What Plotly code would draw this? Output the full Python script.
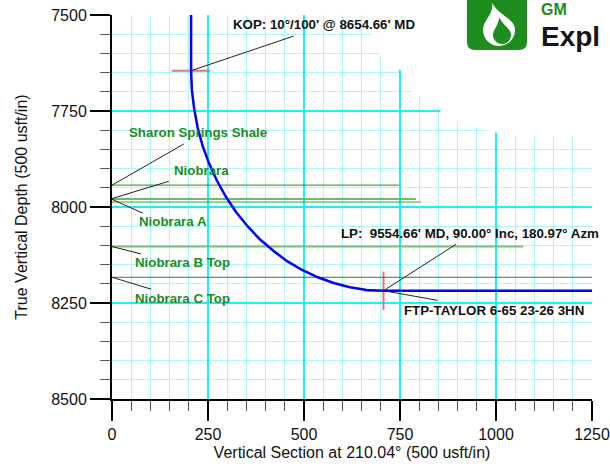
import plotly.graph_objects as go

# ---------------- data ----------------
well_vs = [206, 206, 208, 214, 223, 236, 253, 273, 297, 323, 353, 385, 420, 456, 495, 536, 577, 620, 663, 707, 1250]
well_tvd = [7500, 7645, 7695, 7744, 7793, 7841, 7887, 7931, 7974, 8013, 8050, 8084, 8114, 8141, 8164, 8183,
            8198, 8209, 8216, 8218, 8218]

form_names = ["Sharon Springs Shale", "Niobrara", "Niobrara A", "Niobrara B Top", "Niobrara C Top"]
form_tvd = [7943, 7979, 7987, 8103, 8183]
form_end = [748, 792, 805, 1071, 1250]
form_colors = ["#1f8a1f", "#6abf6a", "#3c9c3c", "#74c474", "#1f8a1f"]
form_widths = [1, 2, 1, 2, 1]

# label anchor (text) positions and leader line endpoints, data coords
form_label_x = [40, 156, 64, 55, 55]
form_label_y = [7807, 7904, 8039, 8144, 8238]
form_lead_y0 = [7943, 7978, 7980, 8103, 8183]
form_lead_x1 = [187, 148, 80, 75, 102]
form_lead_y1 = [7836, 7933, 8016, 8122, 8214]

kop_vs, kop_tvd = 206, 7645
lp_vs, lp_tvd = 707, 8218
kop_text = "KOP: 10°/100' @ 8654.66' MD"
lp_text = "LP:  9554.66' MD, 90.00° Inc, 180.97° Azm"
well_text = "FTP-TAYLOR 6-65 23-26 3HN"

x_ticks = [0, 250, 500, 750, 1000, 1250]
y_ticks = [7500, 7750, 8000, 8250, 8500]

X_RANGE = [0, 1250]
Y_RANGE = [8500, 7500]

# ---------------- layout geometry helpers ----------------
ML, MR, MT, MB = 112, 18, 15, 67
W, H = 610, 466
PW, PH = W - ML - MR, H - MT - MB


def pp(xpx, ypx):
    return (xpx - ML) / PW, (H - MB - ypx) / PH


def px2data(xpx, ypx):
    fx, fy = pp(xpx, ypx)
    return (X_RANGE[0] + fx * (X_RANGE[1] - X_RANGE[0]),
            Y_RANGE[0] + fy * (Y_RANGE[1] - Y_RANGE[0]))


def path_px(cmds):
    out = []
    for c in cmds:
        if isinstance(c, str):
            out.append(c)
        else:
            x, y = pp(*c)
            out.append(f"{x:.5f},{y:.5f}")
    return " ".join(out)


fig = go.Figure()

GREEN_TXT = "#1e8c1e"
LBL = 13.3

# white mask hiding the grid in the top-right corner (under all marks)
stair = [(363.5, -2), (363.5, 16), (370.5, 34.5), (379.5, 53.5), (382.5, 57), (401.5, 71), (402, 72.5),
         (412.5, 92.5), (420.5, 97), (439.5, 107), (440.5, 111.5), (458.5, 123), (477.5, 128),
         (487.5, 130.5), (497.5, 133), (516.5, 135.8), (535, 136.8), (600, 136.8), (600, -2)]
mask = [px2data(*p) for p in stair]
fig.add_trace(go.Scatter(x=[m[0] for m in mask], y=[m[1] for m in mask], mode="lines", fill="toself",
                         fillcolor="white", line=dict(width=0, color="white"), hoverinfo="skip",
                         showlegend=False, cliponaxis=True))

# red KOP / LP markers (under the well path)
fig.add_trace(go.Scatter(x=[kop_vs - 50, kop_vs + 50], y=[kop_tvd, kop_tvd], mode="lines",
                         line=dict(color="#f07070", width=2), hoverinfo="skip", showlegend=False))
fig.add_trace(go.Scatter(x=[lp_vs - 50, lp_vs + 50], y=[lp_tvd, lp_tvd], mode="lines",
                         line=dict(color="#f07070", width=2), hoverinfo="skip", showlegend=False))
fig.add_trace(go.Scatter(x=[lp_vs, lp_vs], y=[lp_tvd - 50, lp_tvd + 50], mode="lines",
                         line=dict(color="#f07070", width=2), hoverinfo="skip", showlegend=False))

# formation lines
for name, t, e, c, w in zip(form_names, form_tvd, form_end, form_colors, form_widths):
    fig.add_trace(go.Scatter(x=[0, e], y=[t, t], mode="lines", name=name,
                             line=dict(color=c, width=w), showlegend=False))

# leader lines
leader_x, leader_y = [], []
for y0, x1, y1 in zip(form_lead_y0, form_lead_x1, form_lead_y1):
    leader_x += [0, x1, None]
    leader_y += [y0, y1, None]
leader_x += [kop_vs, 473, None, lp_vs, 896, None, lp_vs, 848]
leader_y += [kop_tvd, 7555, None, lp_tvd, 8097, None, lp_tvd, 8243]
fig.add_trace(go.Scatter(x=leader_x, y=leader_y, mode="lines",
                         line=dict(color="#222222", width=1), hoverinfo="skip", showlegend=False))

# well path
fig.add_trace(go.Scatter(x=well_vs, y=well_tvd, mode="lines", name="Plan",
                         line=dict(color="#0000ff", width=2.5), showlegend=False))

ann = []
for name, lx, ly in zip(form_names, form_label_x, form_label_y):
    ann.append(dict(x=lx, y=ly, text=f"<b>{name}</b>", showarrow=False, xanchor="left", yanchor="middle",
                    font=dict(family="Liberation Sans, Arial", size=LBL, color=GREEN_TXT)))
ann.append(dict(x=311, y=7526, text=f"<b>{kop_text}</b>", showarrow=False, xanchor="left", yanchor="middle",
                font=dict(family="Liberation Sans, Arial", size=LBL, color="#111111")))
ann.append(dict(x=592, y=8068, text=f"<b>{lp_text}</b>", showarrow=False, xanchor="left", yanchor="middle",
                font=dict(family="Liberation Sans, Arial", size=LBL, color="#111111")))
ann.append(dict(x=756, y=8269, text=f"<b>{well_text}</b>", showarrow=False, xanchor="left", yanchor="middle",
                font=dict(family="Liberation Sans, Arial", size=LBL, color="#111111")))

# logo text
gx, gy = pp(540, 0)
ann.append(dict(xref="paper", yref="paper", x=gx, y=gy, text="<b>GM</b>", showarrow=False,
                xanchor="left", yanchor="top", borderpad=0,
                font=dict(family="Liberation Sans, Arial", size=16, color=GREEN_TXT)))
ex, ey = pp(540, 36)
ann.append(dict(xref="paper", yref="paper", x=ex, y=ey, text="<b>Expl</b>", showarrow=False,
                xanchor="left", yanchor="middle", borderpad=0,
                font=dict(family="Liberation Sans, Arial", size=28, color="#151515")))

shapes = []
# logo box
box = ["M", (467, -10), "L", (527, -10), "L", (527, 42), "Q", (527, 50), (519, 50), "L", (475, 50),
       "Q", (467, 50), (467, 42), "Z"]
shapes.append(dict(type="path", xref="paper", yref="paper", path=path_px(box),
                   fillcolor="#1e8c1e", line=dict(width=0), layer="above"))


def drop(tx, ty, cx, cy, r):
    k = 0.5523
    return ["M", (tx, ty),
            "C", (cx - 0.3 * r, ty + 0.4 * (cy - ty)), (cx - r, cy - 0.6 * r), (cx - r, cy),
            "C", (cx - r, cy + k * r), (cx - k * r, cy + r), (cx, cy + r),
            "C", (cx + k * r, cy + r), (cx + r, cy + k * r), (cx + r, cy),
            "C", (cx + r, cy - 0.7 * r), (tx + 0.5 * r, ty + 0.5 * (cy - ty)), (tx, ty), "Z"]


shapes.append(dict(type="path", xref="paper", yref="paper", path=path_px(drop(492, 3, 499, 30, 16)),
                   fillcolor="white", line=dict(width=0), layer="above"))
shapes.append(dict(type="path", xref="paper", yref="paper", path=path_px(drop(499, 17, 502, 35, 9)),
                   fillcolor="#1e8c1e", line=dict(width=0), layer="above"))

axis_font = dict(family="Liberation Sans, Arial", size=16, color="#111111")

fig.update_layout(
    width=W, height=H,
    margin=dict(l=ML, r=MR, t=MT, b=MB, pad=0, autoexpand=False),
    paper_bgcolor="white", plot_bgcolor="white",
    annotations=ann, shapes=shapes,
    font=axis_font,
    xaxis=dict(
        range=X_RANGE, tickmode="array", tickvals=x_ticks, ticktext=[str(v) for v in x_ticks],
        showline=True, linecolor="black", linewidth=2, zeroline=False, automargin=False,
        ticks="outside", ticklen=20, tickwidth=2, tickcolor="black",
        showgrid=True, gridcolor="#1ef0f0", gridwidth=1.5,
        minor=dict(dtick=50, tick0=0, ticks="outside", ticklen=10, tickwidth=1, tickcolor="#555555",
                   showgrid=True, gridcolor="#a8f8f8", gridwidth=1),
        title=dict(text="Vertical Section at 210.04° (500 usft/in)", standoff=5, font=axis_font),
        tickfont=axis_font, fixedrange=True,
    ),
    yaxis=dict(
        range=Y_RANGE, tickmode="array", tickvals=y_ticks, ticktext=[str(v) for v in y_ticks],
        showline=True, linecolor="black", linewidth=2, zeroline=False, automargin=False,
        ticks="outside", ticklen=20, tickwidth=2, tickcolor="black",
        showgrid=True, gridcolor="#1ef0f0", gridwidth=1.5,
        minor=dict(dtick=50, tick0=7500, ticks="outside", ticklen=10, tickwidth=1, tickcolor="#555555",
                   showgrid=True, gridcolor="#a8f8f8", gridwidth=1),
        title=dict(text="True Vertical Depth (500 usft/in)", standoff=20, font=axis_font),
        tickfont=axis_font, fixedrange=True,
    ),
)

fig.write_html("out.html", config={"displayModeBar": False},
               post_script="document.body.style.margin='0';document.body.style.padding='0';")
